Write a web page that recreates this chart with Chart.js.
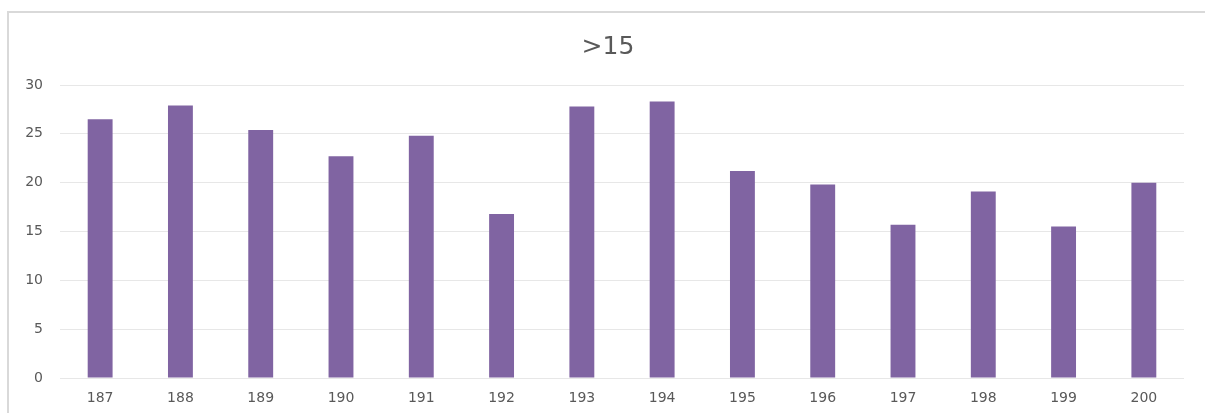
<!DOCTYPE html>
<html>
<head>
<meta charset="utf-8">
<script src="https://cdn.jsdelivr.net/npm/chart.js@4/dist/chart.umd.min.js"></script>
<style>
  html, body { margin: 0; padding: 0; background: #ffffff; }
  #wrap { position: relative; width: 1205px; height: 413px; }
  canvas { display: block; }
</style>
</head>
<body>
<div id="wrap"><canvas id="c" width="1205" height="413"></canvas></div>
<script>
// Categories and bar values
const categories = ['187', '188', '189', '190', '191', '192', '193', '194', '195', '196', '197', '198', '199', '200'];
const values = [26.5, 27.9, 25.4, 22.7, 24.8, 16.8, 27.8, 28.3, 21.2, 19.8, 15.7, 19.1, 15.5, 20.0];
const chartTitle = '>15';
const yTicks = [0, 5, 10, 15, 20, 25, 30];

const textColor = '#595959';
const gridColor = '#e7e7e7';
const barColor = '#8064a2';

// Light frame around the chart (open on the right and bottom) and the centred heading
const framePlugin = {
  id: 'frame',
  beforeDraw(chart) {
    const ctx = chart.ctx;
    ctx.save();
    ctx.strokeStyle = '#d9d9d9';
    ctx.lineWidth = 2;
    ctx.beginPath();
    ctx.moveTo(8, 413);
    ctx.lineTo(8, 12);
    ctx.lineTo(1210, 12);
    ctx.stroke();

    ctx.fillStyle = textColor;
    ctx.font = '25px "DejaVu Sans"';
    ctx.textAlign = 'center';
    ctx.textBaseline = 'middle';
    ctx.fillText(chartTitle, 608, 47);
    ctx.restore();
  }
};

new Chart(document.getElementById('c'), {
  type: 'bar',
  data: {
    labels: categories,
    datasets: [{
      data: values,
      backgroundColor: barColor,
      borderWidth: 0,
      categoryPercentage: 1,
      barPercentage: 0.31
    }]
  },
  options: {
    responsive: false,
    animation: false,
    layout: { padding: { left: 0, right: 21, top: 85, bottom: 0 } },
    plugins: {
      legend: { display: false },
      tooltip: { enabled: false },
      title: { display: false }
    },
    scales: {
      x: {
        grid: { display: false, drawTicks: false },
        border: { display: false },
        ticks: {
          color: textColor,
          font: { family: 'DejaVu Sans', size: 14 },
          padding: 12,
          maxRotation: 0,
          autoSkip: false
        },
        afterFit(scale) { scale.height = 35; }
      },
      y: {
        min: 0,
        max: 30,
        afterBuildTicks(scale) { scale.ticks = yTicks.map(v => ({ value: v })); },
        grid: { color: gridColor, lineWidth: 1, drawTicks: false },
        border: { display: false },
        ticks: {
          color: textColor,
          font: { family: 'DejaVu Sans', size: 14 },
          padding: 17
        },
        afterFit(scale) { scale.width = 60; }
      }
    }
  },
  plugins: [framePlugin]
});
</script>
</body>
</html>
